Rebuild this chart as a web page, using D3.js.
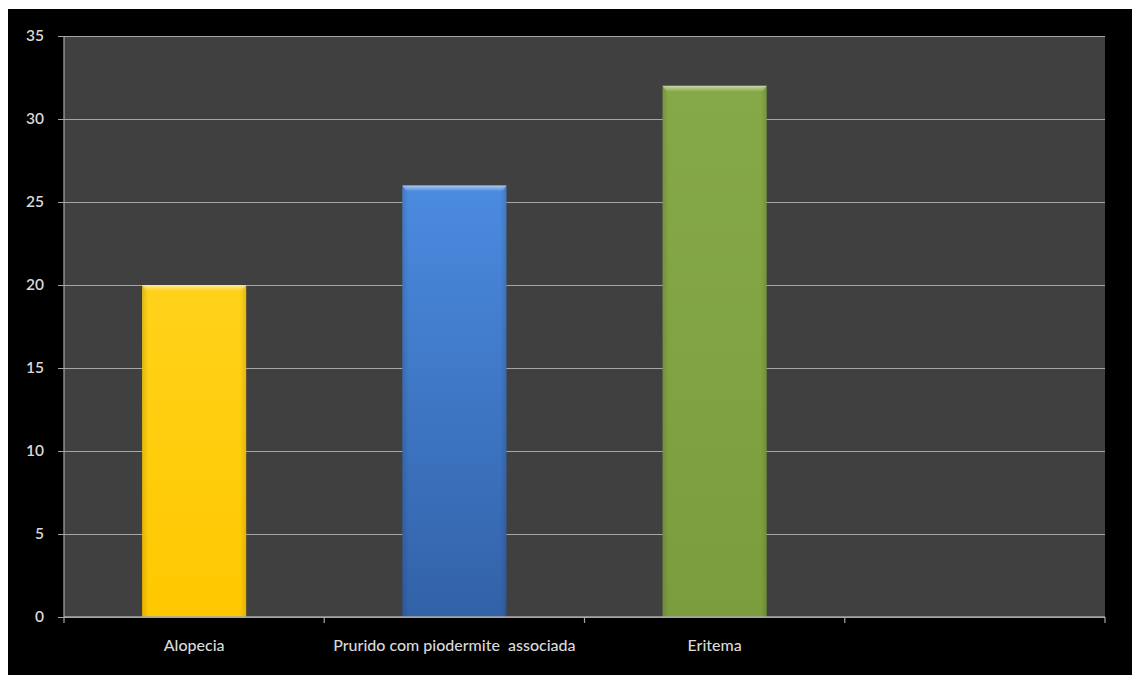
<!DOCTYPE html>
<html>
<head>
<meta charset="utf-8">
<script src="https://cdn.jsdelivr.net/npm/d3@7"></script>
<style>
  html, body { margin: 0; padding: 0; background: #ffffff; }
  svg { display: block; }
  text { font-family: Lato, "Open Sans", sans-serif; }
</style>
</head>
<body>
<svg id="chart" width="1132" height="675"></svg>
<script>
// Category slots along the x axis (the last slot is left empty)
const categories = ["Alopecia", "Prurido com piodermite  associada", "Eritema", ""];
const values = [20, 26, 32, null];
const yTicks = [0, 5, 10, 15, 20, 25, 30, 35];
const barTop = ["#ffd21a", "#4b8be0", "#86a947", null];
const barBottom = ["#ffc800", "#3262a8", "#7c9d3e", null];

const svg = d3.select("#chart");
const W = 1132, H = 675;
const frame = { left: 8, top: 9 };
const plot = { left: 64, top: 36, right: 1105, bottom: 617 };

// black backdrop
svg.append("rect")
  .attr("x", frame.left).attr("y", frame.top)
  .attr("width", W - frame.left).attr("height", H - frame.top)
  .attr("fill", "#000000");

// plot area
svg.append("rect")
  .attr("x", plot.left).attr("y", plot.top)
  .attr("width", plot.right - plot.left).attr("height", plot.bottom - plot.top)
  .attr("fill", "#404040");

const x = d3.scaleBand()
  .domain(categories.map((c, i) => i))
  .range([plot.left, plot.right])
  .paddingInner(0.6)
  .paddingOuter(0.3);

const y = d3.scaleLinear().domain([0, 35]).range([plot.bottom, plot.top]);

// gradients for the bars
const defs = svg.append("defs");
values.forEach((v, i) => {
  if (v == null) return;
  const g = defs.append("linearGradient")
    .attr("id", "bar" + i).attr("x1", 0).attr("y1", 0).attr("x2", 0).attr("y2", 1);
  g.append("stop").attr("offset", "0%").attr("stop-color", barTop[i]);
  g.append("stop").attr("offset", "100%").attr("stop-color", barBottom[i]);
});
const hl = defs.append("linearGradient")
  .attr("id", "bevel").attr("x1", 0).attr("y1", 0).attr("x2", 0).attr("y2", 1);
hl.append("stop").attr("offset", "0%").attr("stop-color", "#ffffff").attr("stop-opacity", 0.55);
hl.append("stop").attr("offset", "100%").attr("stop-color", "#ffffff").attr("stop-opacity", 0);
const side = defs.append("linearGradient")
  .attr("id", "sides").attr("x1", 0).attr("y1", 0).attr("x2", 1).attr("y2", 0);
side.append("stop").attr("offset", "0%").attr("stop-color", "#000").attr("stop-opacity", 0.12);
side.append("stop").attr("offset", "6%").attr("stop-color", "#000").attr("stop-opacity", 0);
side.append("stop").attr("offset", "94%").attr("stop-color", "#000").attr("stop-opacity", 0);
side.append("stop").attr("offset", "100%").attr("stop-color", "#000").attr("stop-opacity", 0.12);

// y axis with gridlines
const yAxis = d3.axisLeft(y)
  .tickValues(yTicks)
  .tickSize(-(plot.right - plot.left) - 6)
  .tickPadding(20);
const yg = svg.append("g")
  .attr("transform", `translate(${plot.left},0)`)
  .call(yAxis);
yg.select(".domain").remove();
yg.selectAll(".tick line")
  .attr("x1", -6)
  .attr("x2", plot.right - plot.left)
  .attr("stroke", "#a6a6a6").attr("stroke-width", 1.2);
yg.selectAll(".tick text")
  .attr("fill", "#d9d9d9").attr("font-size", 15.5).attr("font-weight", 600);

// y axis line
svg.append("line")
  .attr("x1", plot.left).attr("x2", plot.left)
  .attr("y1", plot.top).attr("y2", plot.bottom)
  .attr("stroke", "#a6a6a6").attr("stroke-width", 1.2);

// bars
const bars = svg.append("g");
values.forEach((v, i) => {
  if (v == null) return;
  const bx = x(i), bw = x.bandwidth(), by = y(v), bh = y(0) - y(v);
  bars.append("rect").attr("x", bx).attr("y", by).attr("width", bw).attr("height", bh)
    .attr("fill", `url(#bar${i})`);
  bars.append("rect").attr("x", bx).attr("y", by).attr("width", bw).attr("height", bh)
    .attr("fill", "url(#sides)");
  bars.append("path")
    .attr("d", `M${bx},${by}H${bx + bw}L${bx + bw - 4},${by + 6}H${bx + 4}Z`)
    .attr("fill", "url(#bevel)");
});

// x axis with boundary ticks between categories
const xAxisLine = svg.append("g");
xAxisLine.append("line")
  .attr("x1", plot.left).attr("x2", plot.right)
  .attr("y1", plot.bottom).attr("y2", plot.bottom)
  .attr("stroke", "#a6a6a6").attr("stroke-width", 1.5);
const bounds = d3.range(categories.length + 1).map(k => plot.left + k * (plot.right - plot.left) / categories.length);
xAxisLine.selectAll("line.tk").data(bounds).join("line")
  .attr("class", "tk")
  .attr("x1", d => d).attr("x2", d => d)
  .attr("y1", plot.bottom).attr("y2", plot.bottom + 6)
  .attr("stroke", "#a6a6a6").attr("stroke-width", 1.2);

// category labels
svg.append("g").selectAll("text").data(categories).join("text")
  .attr("x", (d, i) => x(i) + x.bandwidth() / 2)
  .attr("y", 651)
  .attr("text-anchor", "middle")
  .attr("fill", "#d9d9d9")
  .attr("font-size", 16)
  .attr("font-weight", 500)
  .style("white-space", "pre")
  .text(d => d);
</script>
</body>
</html>
